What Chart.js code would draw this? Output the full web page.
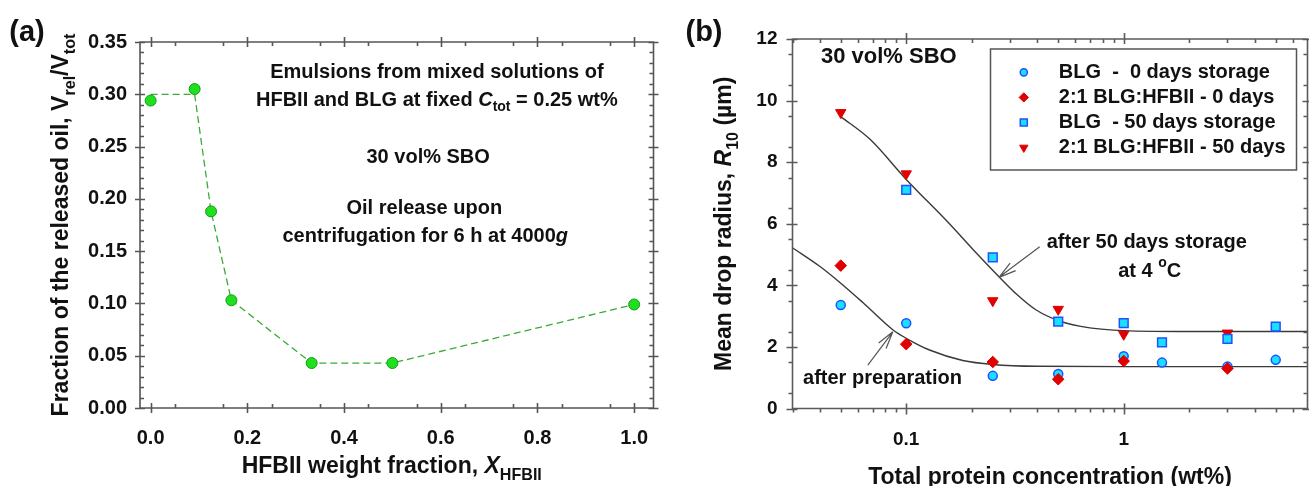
<!DOCTYPE html>
<html>
<head>
<meta charset="utf-8">
<script src="https://cdn.jsdelivr.net/npm/chart.js@4.4.1/dist/chart.umd.min.js"></script>
<style>
  html, body { margin: 0; padding: 0; background: #fff; width: 1309px; height: 486px; overflow: hidden; }
  canvas { position: absolute; top: 0; }
  #chartA { left: 0; }
  #chartB { left: 660px; }
</style>
</head>
<body>
<canvas id="chartA" width="660" height="486"></canvas>
<canvas id="chartB" width="660" height="486"></canvas>
<script>
// Panel (a): fraction of released oil vs HFBII weight fraction
const hfbiiFraction = [0, 0.091, 0.125, 0.167, 0.333, 0.5, 1.0];
const releasedOil = [0.294, 0.305, 0.188, 0.103, 0.043, 0.043, 0.099];
const releasedOilGuide = [0.300, 0.300, 0.188, 0.103, 0.043, 0.043, 0.099];
const xTicksA = [0, 0.2, 0.4, 0.6, 0.8, 1.0];
const yTicksA = [0, 0.05, 0.10, 0.15, 0.20, 0.25, 0.30, 0.35];

// Panel (b): mean drop radius vs total protein concentration
const concBlg0 = [0.05, 0.1, 0.25, 0.5, 1, 1.5, 3, 5];
const radiusBlg0 = [3.36, 2.77, 1.06, 1.12, 1.70, 1.49, 1.36, 1.58];
const concMix0 = [0.05, 0.1, 0.25, 0.5, 1, 3];
const radiusMix0 = [4.64, 2.09, 1.51, 0.95, 1.54, 1.30];
const concBlg50 = [0.1, 0.25, 0.5, 1, 1.5, 3, 5];
const radiusBlg50 = [7.10, 4.91, 2.82, 2.77, 2.15, 2.26, 2.66];
const concMix50 = [0.05, 0.1, 0.25, 0.5, 1, 3];
const radiusMix50 = [9.61, 7.62, 3.50, 3.22, 2.41, 2.45];
// guide curves drawn through the two groups
const curveStoredX = [0.05, 0.068, 0.1, 0.158, 0.21, 0.267, 0.321, 0.396, 0.508, 0.698, 1, 2, 7];
const curveStoredY = [9.48, 8.75, 7.44, 6.0, 5.05, 4.28, 3.72, 3.2, 2.84, 2.62, 2.53, 2.50, 2.50];
const curveFreshX = [0.03, 0.04, 0.05, 0.063, 0.087, 0.1, 0.128, 0.182, 0.25, 0.4, 1, 7];
const curveFreshY = [5.22, 4.62, 4.07, 3.45, 2.55, 2.28, 1.90, 1.56, 1.43, 1.37, 1.36, 1.36];
const xTicksB = [0.1, 1];
const yTicksB = [0, 2, 4, 6, 8, 10, 12];

const FONT = '"Liberation Sans", Arial, sans-serif';
const INK = '#111';

const pts = (xs, ys) => xs.map((x, i) => ({ x, y: ys[i] }));

// draws a line of text made of pieces: [text, kind], kind = '' | 'i' | 'sub' | 'sup'
function richText(ctx, parts, x, y, size, align) {
  const fonts = parts.map(([, k]) => {
    const s = (k === 'sub' || k === 'sup') ? size * 0.7 : size;
    return (k === 'i' ? 'italic ' : '') + 'bold ' + s + 'px ' + FONT;
  });
  let total = 0;
  const widths = parts.map(([t], i) => {
    ctx.font = fonts[i];
    const w = ctx.measureText(t).width;
    total += w;
    return w;
  });
  let cx = align === 'center' ? x - total / 2 : (align === 'right' ? x - total : x);
  ctx.textAlign = 'left';
  parts.forEach(([t, k], i) => {
    ctx.font = fonts[i];
    const dy = k === 'sub' ? size * 0.3 : (k === 'sup' ? -size * 0.42 : 0);
    ctx.fillText(t, cx, y + dy);
    cx += widths[i];
  });
}

// box frame with ticks on all four sides
const frameTicks = {
  id: 'frameTicks',
  afterDatasetsDraw(chart, args, o) {
    const { ctx, chartArea: a } = chart;
    const xs = chart.scales.x, ys = chart.scales.y;
    ctx.save();
    ctx.strokeStyle = o.color;
    ctx.lineWidth = o.lineWidth;
    ctx.beginPath();
    ctx.rect(a.left, a.top, a.right - a.left, a.bottom - a.top);
    const seg = (x1, y1, x2, y2) => { ctx.moveTo(x1, y1); ctx.lineTo(x2, y2); };
    const markX = (vals, near, far) => vals.forEach(v => {
      const p = Math.round(xs.getPixelForValue(v)) + 0.5;
      if (p < a.left - 0.5 || p > a.right + 0.5) return;
      seg(p, a.bottom - near.in, p, a.bottom + near.out);
      seg(p, a.top + far.in, p, a.top - far.out);
    });
    const markY = (vals, near, far) => vals.forEach(v => {
      const p = Math.round(ys.getPixelForValue(v)) + 0.5;
      seg(a.left + near.in, p, a.left - near.out, p);
      seg(a.right - far.in, p, a.right + far.out, p);
    });
    markX(o.xMajor, o.major, o.major);
    markX(o.xMinor, o.minor, o.minorFar);
    markY(o.yMajor, o.major, o.major);
    markY(o.yMinor, o.minor, o.minorFar);
    ctx.stroke();
    ctx.restore();
  }
};

// free text, arrows, axis titles and panel letter
const decorations = {
  id: 'decorations',
  afterDraw(chart, args, o) {
    const { ctx, chartArea: a } = chart;
    const xs = chart.scales.x, ys = chart.scales.y;
    ctx.save();
    ctx.fillStyle = INK;
    ctx.textBaseline = 'middle';
    (o.notes || []).forEach(n => {
      richText(ctx, n.parts, xs.getPixelForValue(n.x), ys.getPixelForValue(n.y), n.size, 'center');
    });
    ctx.strokeStyle = '#555';
    ctx.lineWidth = 1.2;
    (o.arrows || []).forEach(ar => {
      const x0 = xs.getPixelForValue(ar.from[0]), y0 = ys.getPixelForValue(ar.from[1]);
      const x1 = xs.getPixelForValue(ar.to[0]), y1 = ys.getPixelForValue(ar.to[1]);
      const ang = Math.atan2(y0 - y1, x0 - x1);
      ctx.beginPath();
      ctx.moveTo(x0, y0);
      ctx.lineTo(x1, y1);
      [-0.26, 0.26].forEach(d => {
        ctx.moveTo(x1, y1);
        ctx.lineTo(x1 + 18 * Math.cos(ang + d), y1 + 18 * Math.sin(ang + d));
      });
      ctx.stroke();
    });
    // axis titles
    ctx.textBaseline = 'alphabetic';
    richText(ctx, o.xTitle, (a.left + a.right) / 2 + (o.xTitleShift || 0), a.bottom + o.xTitleGap, 23, 'center');
    ctx.save();
    ctx.translate(a.left - o.yTitleGap, (a.top + a.bottom) / 2);
    ctx.rotate(-Math.PI / 2);
    richText(ctx, o.yTitle, 0, 0, 23, 'center');
    ctx.restore();
    // panel letter
    ctx.textBaseline = 'middle';
    ctx.font = 'bold 29px ' + FONT;
    ctx.textAlign = 'center';
    ctx.fillText(o.letter, o.letterX, 33);
    ctx.restore();
  }
};

// boxed legend inside the plot
const boxLegend = {
  id: 'boxLegend',
  afterDraw(chart, args, o) {
    if (!o.show) return;
    const { ctx, chartArea: a } = chart;
    const left = a.right - o.offsetRight, top = a.top + o.offsetTop;
    ctx.save();
    ctx.fillStyle = '#fff';
    ctx.fillRect(left, top, o.width, o.height);
    ctx.strokeStyle = '#555';
    ctx.lineWidth = 1.5;
    ctx.strokeRect(left, top, o.width, o.height);
    let row = 0;
    chart.data.datasets.forEach(ds => {
      if (!ds.label) return;
      const y = top + o.firstRow + row * o.rowGap;
      ctx.fillStyle = ds.backgroundColor;
      ctx.strokeStyle = ds.borderColor;
      ctx.lineWidth = ds.borderWidth;
      Chart.helpers.drawPoint(ctx, {
        pointStyle: ds.pointStyle,
        rotation: ds.rotation || 0,
        radius: ds.pointRadius * 0.8,
        borderWidth: ds.borderWidth
      }, left + o.markerX, y);
      ctx.fillStyle = INK;
      ctx.font = 'bold 20px ' + FONT;
      ctx.textAlign = 'left';
      ctx.textBaseline = 'middle';
      ctx.fillText(ds.label, left + o.textX, y);
      row++;
    });
    ctx.restore();
  }
};

const tickFont = size => ({ family: FONT, size, weight: 'bold' });

// fixed axis boxes: no extra room reserved for overhanging tick labels
const fixHeight = h => s => { s.height = h; s.paddingLeft = 0; s.paddingRight = 0; };
const fixWidth = w => s => { s.width = w; s.paddingTop = 0; s.paddingBottom = 0; };

const minorA_x = [], minorA_y = [];
for (let v = 0.05; v < 1.02; v += 0.1) minorA_x.push(+v.toFixed(2));
for (let v = 0; v <= 0.35; v += 0.01) if (Math.round(v * 100) % 5) minorA_y.push(+v.toFixed(2));

new Chart(document.getElementById('chartA'), {
  type: 'scatter',
  data: {
    datasets: [
      {
        data: pts(hfbiiFraction, releasedOil),
        pointStyle: 'circle',
        pointRadius: 5.5,
        backgroundColor: '#1ee01e',
        borderColor: '#169a16',
        borderWidth: 1,
        order: 0
      },
      {
        data: pts(hfbiiFraction, releasedOilGuide),
        showLine: true,
        pointRadius: 0,
        borderColor: '#3aaa3a',
        borderWidth: 1.3,
        borderDash: [7, 4],
        order: 1
      }
    ]
  },
  options: {
    responsive: false,
    animation: false,
    devicePixelRatio: 1,
    layout: { padding: { left: 0, top: 42, right: 1.5, bottom: 0 } },
    plugins: {
      legend: { display: false },
      tooltip: { enabled: false },
      frameTicks: {
        color: '#555', lineWidth: 1.6,
        xMajor: xTicksA, xMinor: minorA_x, yMajor: yTicksA, yMinor: minorA_y,
        major: { in: 5, out: 5 }, minor: { in: 4, out: 0 }, minorFar: { in: 4, out: 0 }
      },
      decorations: {
        letter: '(a)', letterX: 27,
        xTitleGap: 65, xTitleShift: -5, yTitleGap: 72,
        xTitle: [['HFBII weight fraction, ', ''], ['X', 'i'], ['HFBII', 'sub']],
        yTitle: [['Fraction of the released oil, V', ''], ['rel', 'sub'], ['/V', ''], ['tot', 'sub']],
        notes: [
          { x: 0.592, y: 0.3206, size: 20, parts: [['Emulsions from mixed solutions of', '']] },
          { x: 0.592, y: 0.2939, size: 20, parts: [['HFBII and BLG at fixed ', ''], ['C', 'i'], ['tot', 'sub'], [' = 0.25 wt%', '']] },
          { x: 0.574, y: 0.2394, size: 20, parts: [['30 vol% SBO', '']] },
          { x: 0.566, y: 0.1906, size: 20, parts: [['Oil release upon', '']] },
          { x: 0.568, y: 0.1639, size: 20, parts: [['centrifugation for 6 h at 4000', ''], ['g', 'i']] }
        ]
      }
    },
    scales: {
      x: {
        type: 'linear', min: -0.022, max: 1.04,
        grid: { display: false, drawTicks: false },
        border: { display: false },
        afterFit: fixHeight(78),
        afterBuildTicks: s => { s.ticks = xTicksA.map(value => ({ value })); },
        ticks: { font: tickFont(20), color: INK, padding: 18, maxRotation: 0, callback: v => v.toFixed(1) }
      },
      y: {
        type: 'linear', min: 0, max: 0.35,
        grid: { display: false, drawTicks: false },
        border: { display: false },
        afterFit: fixWidth(140),
        afterBuildTicks: s => { s.ticks = yTicksA.map(value => ({ value })); },
        ticks: { font: tickFont(20), color: INK, padding: 13, callback: v => v.toFixed(2) }
      }
    }
  },
  plugins: [frameTicks, decorations]
});

const minorB_x = [0.03, 0.04, 0.05, 0.06, 0.07, 0.08, 0.09, 0.2, 0.3, 0.4, 0.5, 0.6, 0.7, 0.8, 0.9, 2, 3, 4, 5, 6, 7];
const minorB_y = [];
for (let v = 0.5; v < 12; v += 1) minorB_y.push(v);

const cyan = '#18e0ff', blue = '#2050ff', red = '#e00000';

new Chart(document.getElementById('chartB'), {
  type: 'scatter',
  data: {
    datasets: [
      {
        label: 'BLG  -  0 days storage',
        data: pts(concBlg0, radiusBlg0),
        pointStyle: 'circle', pointRadius: 4.5,
        backgroundColor: cyan, borderColor: blue, borderWidth: 1.5,
        order: 1
      },
      {
        label: '2:1 BLG:HFBII - 0 days',
        data: pts(concMix0, radiusMix0),
        pointStyle: 'rectRot', pointRadius: 5.8,
        backgroundColor: red, borderColor: red, borderWidth: 1,
        order: 0
      },
      {
        label: 'BLG  - 50 days storage',
        data: pts(concBlg50, radiusBlg50),
        pointStyle: 'rect', pointRadius: 6.2,
        backgroundColor: cyan, borderColor: blue, borderWidth: 1.5,
        order: 2
      },
      {
        label: '2:1 BLG:HFBII - 50 days',
        data: pts(concMix50, radiusMix50),
        pointStyle: 'triangle', rotation: 180, pointRadius: 6,
        backgroundColor: red, borderColor: red, borderWidth: 1,
        order: 3
      },
      {
        data: pts(curveStoredX, curveStoredY),
        showLine: true, pointRadius: 0,
        borderColor: '#3a3a3a', borderWidth: 1.4,
        cubicInterpolationMode: 'monotone',
        order: 5
      },
      {
        data: pts(curveFreshX, curveFreshY),
        showLine: true, pointRadius: 0,
        borderColor: '#3a3a3a', borderWidth: 1.4,
        cubicInterpolationMode: 'monotone',
        order: 5
      }
    ]
  },
  options: {
    responsive: false,
    animation: false,
    devicePixelRatio: 1,
    layout: { padding: { left: 0, top: 39, right: 12.5, bottom: 0 } },
    plugins: {
      legend: { display: false },
      tooltip: { enabled: false },
      frameTicks: {
        color: '#5a5a5a', lineWidth: 1.6,
        xMajor: xTicksB, xMinor: minorB_x, yMajor: yTicksB, yMinor: minorB_y,
        major: { in: 5, out: 6 }, minor: { in: 0, out: 4 }, minorFar: { in: 4, out: 0 }
      },
      boxLegend: {
        show: true, offsetRight: 317, offsetTop: 10, width: 306, height: 121,
        firstRow: 23.3, rowGap: 25.1, markerX: 33.3, textX: 68.3
      },
      decorations: {
        letter: '(b)', letterX: 44,
        xTitleGap: 75, yTitleGap: 61.5,
        xTitle: [['Total protein concentration (wt%)', '']],
        yTitle: [['Mean drop radius, ', ''], ['R', 'i'], ['10', 'sub'], [' (\u00b5m)', '']],
        notes: [
          { x: 0.0832, y: 11.41, size: 22, parts: [['30 vol% SBO', '']] },
          { x: 1.276, y: 5.385, size: 20, parts: [['after 50 days storage', '']] },
          { x: 1.317, y: 4.443, size: 20, parts: [['at 4 ', ''], ['o', 'sup'], ['C', '']] },
          { x: 0.0778, y: 0.99, size: 20, parts: [['after preparation', '']] }
        ],
        arrows: [
          { from: [0.411, 5.25], to: [0.267, 4.26] },
          { from: [0.0666, 1.41], to: [0.0868, 2.49] }
        ]
      }
    },
    scales: {
      x: {
        type: 'logarithmic', min: 0.03, max: 7,
        grid: { display: false, drawTicks: false },
        border: { display: false },
        afterFit: fixHeight(77.5),
        afterBuildTicks: s => { s.ticks = xTicksB.map(value => ({ value })); },
        ticks: { font: tickFont(19), color: INK, padding: 20, maxRotation: 0, autoSkip: false, callback: v => String(v) }
      },
      y: {
        type: 'linear', min: 0, max: 12,
        grid: { display: false, drawTicks: false },
        border: { display: false },
        afterFit: fixWidth(132.5),
        afterBuildTicks: s => { s.ticks = yTicksB.map(value => ({ value })); },
        ticks: { font: tickFont(19), color: INK, padding: 15, callback: v => String(v) }
      }
    }
  },
  plugins: [frameTicks, boxLegend, decorations]
});
</script>
</body>
</html>
